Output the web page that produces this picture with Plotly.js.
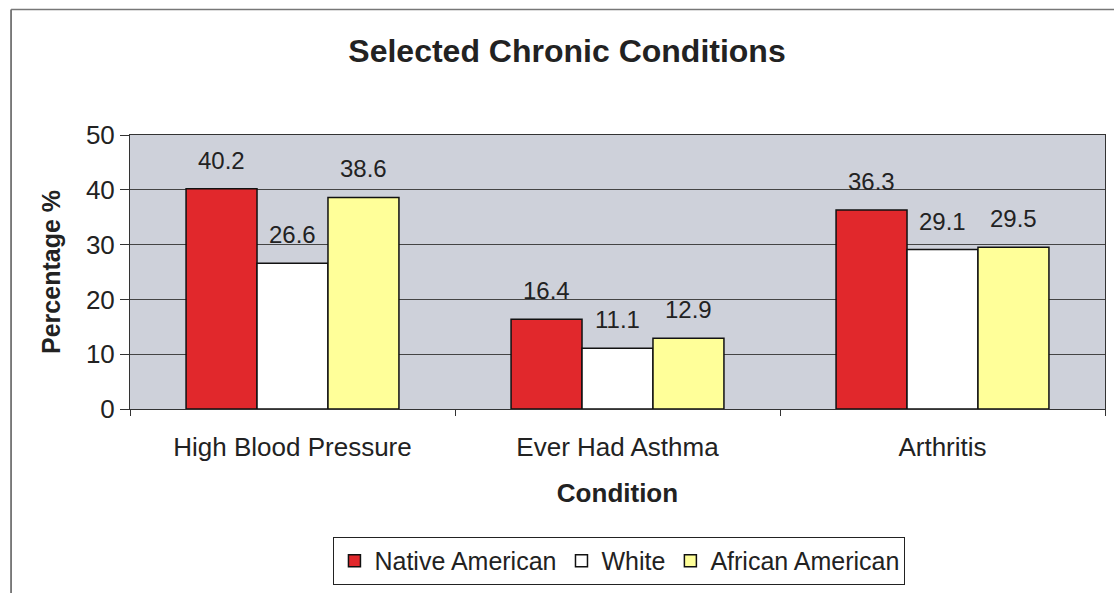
<!DOCTYPE html>
<html><head><meta charset="utf-8">
<script src="https://cdn.plot.ly/plotly-3.0.1.min.js"></script>
<style>html,body{margin:0;padding:0;background:#fff}#chart{width:1114px;height:593px}</style>
</head><body><div id="chart"></div>
<script>
const categories = ["High Blood Pressure", "Ever Had Asthma", "Arthritis"];
const seriesNames = ["Native American", "White", "African American"];
const nativeAmerican = [40.2, 16.4, 36.3];
const white = [26.6, 11.1, 29.1];
const africanAmerican = [38.6, 12.9, 29.5];
const yTicks = [0, 10, 20, 30, 40, 50];

const colors = ["#E1282C", "#FFFFFF", "#FFFF99"];
const values = [nativeAmerican, white, africanAmerican];
const bargap = 0.345;
const barW = (1 - bargap) / values.length;
const font = "Liberation Sans, Arial, sans-serif";

const traces = values.map((v, i) => ({
  type: "bar",
  name: seriesNames[i],
  x: categories,
  y: v,
  marker: {color: colors[i], line: {color: "#111", width: 1.5}}
}));

const annotations = [];
values.forEach((v, s) => {
  v.forEach((val, i) => {
    annotations.push({
      xref: "x", yref: "y",
      x: i + (s - (values.length - 1) / 2) * barW,
      y: val,
      text: val.toFixed(1),
      showarrow: false,
      yanchor: "bottom",
      yshift: 13,
      font: {family: font, size: 24, color: "#222"}
    });
  });
});

const layout = {
  width: 1114, height: 593,
  margin: {l: 130, r: 9, t: 135, b: 183},
  paper_bgcolor: "#fff",
  plot_bgcolor: "#CED1DA",
  barmode: "group",
  bargap: bargap,
  bargroupgap: 0,
  font: {family: font, color: "#222"},
  title: {text: "<b>Selected Chronic Conditions</b>", font: {size: 32, color: "#222"}, x: 0.509, xanchor: "center", y: 0.915, yanchor: "middle"},
  xaxis: {
    type: "category",
    tickson: "boundaries",
    ticks: "outside", ticklen: 6, tickcolor: "#333",
    ticklabelstandoff: 15,
    showline: true, linecolor: "#333", linewidth: 1, mirror: true,
    tickfont: {size: 26, color: "#222"},
    title: {text: "<b>Condition</b>", font: {size: 26, color: "#222"}, standoff: 22}
  },
  yaxis: {
    range: [0, 50],
    tickvals: yTicks,
    ticks: "outside", ticklen: 9, tickcolor: "#333",
    showline: true, linecolor: "#333", linewidth: 1, mirror: true,
    showgrid: true, gridcolor: "#444", gridwidth: 1,
    zeroline: false,
    tickfont: {size: 26, color: "#222"},
    title: {text: "<b>Percentage %</b>", font: {size: 25, color: "#222"}, standoff: 18}
  },
  legend: {
    orientation: "h", x: 0.502, xanchor: "center", y: -0.549, yanchor: "middle",
    bordercolor: "#222", borderwidth: 1, bgcolor: "#fff",
    font: {size: 25, color: "#222"},
    itemwidth: 30
  },
  annotations: annotations,
  shapes: [
    {type: "line", xref: "paper", yref: "paper", x0: -0.122, x1: -0.122, y0: -0.7, y1: 1.458, line: {color: "#555", width: 1.5}},
    {type: "line", xref: "paper", yref: "paper", x0: -0.122, x1: 1.01, y0: 1.458, y1: 1.458, line: {color: "#777", width: 1.5}}
  ]
};

Plotly.newPlot("chart", traces, layout, {displayModeBar: false, staticPlot: true});
</script></body></html>
